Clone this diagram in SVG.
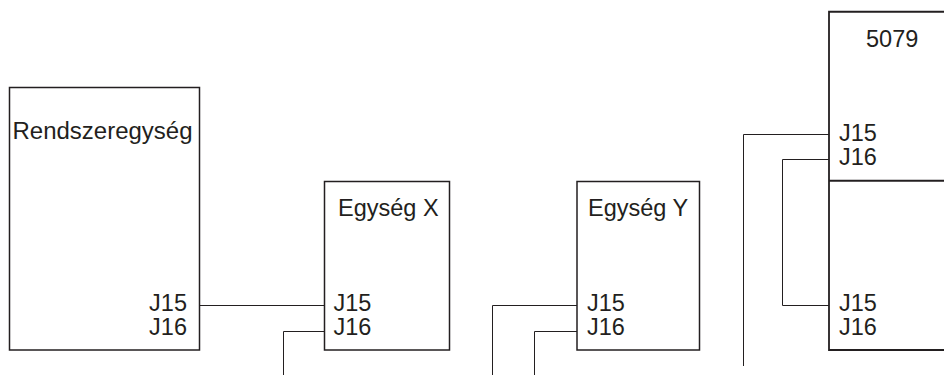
<svg xmlns="http://www.w3.org/2000/svg" width="944" height="375" viewBox="0 0 944 375">
<style>
.box{fill:#fff;stroke:#231f20;stroke-width:1.5}
.conn{fill:none;stroke:#231f20;stroke-width:1}
text{font-family:"Liberation Sans",Arial,sans-serif;font-size:23.5px;fill:#231f20}
.r{text-anchor:end}
</style>
<rect width="944" height="375" fill="#fff"/>
<g id="connectors">
<path class="conn" d="M199.5 305.5H324.5"/>
<path class="conn" d="M324.5 331.5H283.5V375"/>
<path class="conn" d="M577 305.5H492.5V375"/>
<path class="conn" d="M577 331.5H534.5V375"/>
<path class="conn" d="M829 134.5H743.5V366"/>
<path class="conn" d="M829 159.5H782.5V305.5H829"/>
</g>
<g id="rendszeregyseg">
<rect class="box" x="9.5" y="87.5" width="190" height="262.5"/>
<text x="12.5" y="139" textLength="180" lengthAdjust="spacingAndGlyphs">Rendszeregység</text>
<text class="r" x="187" y="311">J15</text>
<text class="r" x="187" y="335">J16</text>
</g>
<g id="egyseg-x">
<rect class="box" x="324.5" y="181.5" width="125" height="168.5"/>
<text x="338" y="216">Egység X</text>
<text x="333.5" y="311">J15</text>
<text x="333.5" y="335">J16</text>
</g>
<g id="egyseg-y">
<rect class="box" x="577" y="181.5" width="122.5" height="168.5"/>
<text x="588" y="216">Egység Y</text>
<text x="587" y="311">J15</text>
<text x="587" y="335">J16</text>
</g>
<g id="unit-5079">
<path class="box" d="M950 11.75H829V350H950" style="stroke-width:1.8"/>
<path class="box" d="M829 180.75H950" style="stroke-width:1.8"/>
<text x="866" y="47">5079</text>
<text x="839" y="141">J15</text>
<text x="839" y="165">J16</text>
<text x="839" y="311">J15</text>
<text x="839" y="335">J16</text>
</g>
</svg>
